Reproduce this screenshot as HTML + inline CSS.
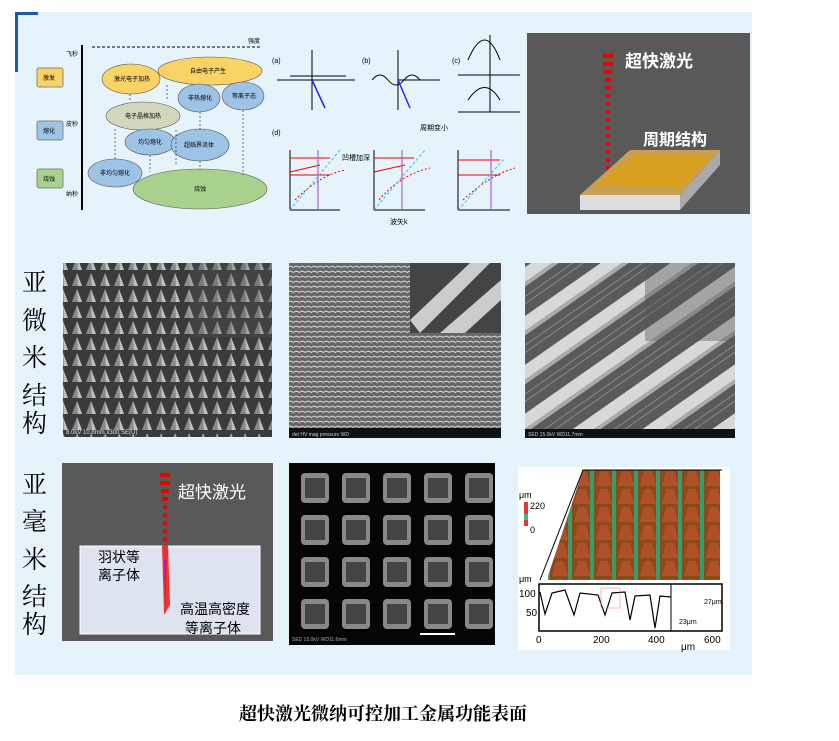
<!DOCTYPE html>
<html><head><meta charset="utf-8"><style>
body{margin:0;width:839px;height:741px;background:#fff;position:relative;overflow:hidden;font-family:"Liberation Serif","Noto Serif CJK SC",serif}
.a{position:absolute}
</style></head><body>
<div class="a" style="left:15px;top:12px;width:737px;height:663px;background:#e6f3fb"></div>
<div class="a" style="left:15px;top:12px;width:23px;height:3px;background:#1a5aa8"></div>
<div class="a" style="left:15px;top:12px;width:3px;height:60px;background:#1a5aa8"></div>
<svg class="a" style="left:0;top:0" width="839" height="741" font-family="Liberation Sans,Noto Sans CJK SC,sans-serif">
<defs>
<pattern id="p1" width="14" height="16" patternUnits="userSpaceOnUse"><rect width="14" height="16" fill="#3a3a3a"/><path d="M7 1 L12 14 L2 14Z" fill="#8a8a8a"/><path d="M7 1 L12 14 L8 14Z" fill="#c0c0c0"/></pattern>
<pattern id="p2" width="6" height="5" patternUnits="userSpaceOnUse"><rect width="6" height="5" fill="#666"/><path d="M0 2 Q3 0 6 3" stroke="#c8c8c8" stroke-width="1.2" fill="none"/></pattern>
<pattern id="p3" width="50" height="40" patternUnits="userSpaceOnUse" patternTransform="rotate(-35)"><rect width="50" height="40" fill="#5a5a5a"/><rect y="0" width="50" height="12" fill="#d8d8d8"/><rect y="12" width="50" height="4" fill="#aaa"/><path d="M0 24H50M0 30H50" stroke="#888" stroke-width="1"/></pattern>
<pattern id="p4" width="41" height="42" patternUnits="userSpaceOnUse" x="296" y="468"><rect width="41" height="42" fill="#050505"/><rect x="5" y="5" width="28" height="30" rx="4" fill="#888"/><rect x="9" y="10" width="20" height="20" fill="#444"/></pattern>
<pattern id="p5" width="22" height="18" patternUnits="userSpaceOnUse"><rect width="22" height="18" fill="#8a4a1a"/><path d="M2 18 L6 3 L14 3 L18 18Z" fill="#b0502a"/><rect x="18" y="0" width="4" height="18" fill="#3a9a6a"/></pattern>
</defs>
<line x1="82" y1="45" x2="82" y2="210" stroke="#000" stroke-width="2"/>
<line x1="92" y1="47" x2="260" y2="47" stroke="#000" stroke-dasharray="3,2"/>
<text x="248" y="43" font-size="6">强度</text>
<text x="66" y="56" font-size="6">飞秒</text><text x="66" y="126" font-size="6">皮秒</text><text x="66" y="196" font-size="6">纳秒</text>
<rect x="37" y="68" width="26" height="19" rx="2" fill="#f9d365" stroke="#888"/><text x="43" y="80" font-size="6">激发</text>
<rect x="37" y="121" width="26" height="19" rx="2" fill="#9dc3e6" stroke="#888"/><text x="43" y="133" font-size="6">熔化</text>
<rect x="37" y="169" width="26" height="19" rx="2" fill="#a9d18e" stroke="#888"/><text x="43" y="181" font-size="6">烧蚀</text>
<g stroke="#555" stroke-width=".6" font-size="6">
<ellipse cx="131" cy="79" rx="29" ry="15" fill="#f9d365"/><ellipse cx="210" cy="71" rx="52" ry="14" fill="#f9d365"/>
<ellipse cx="199" cy="98" rx="21" ry="14" fill="#9dc3e6"/><ellipse cx="243" cy="96" rx="21" ry="14" fill="#9dc3e6"/>
<ellipse cx="143" cy="116" rx="37" ry="14" fill="#d3d6bd"/><ellipse cx="150" cy="142" rx="25" ry="13" fill="#9dc3e6"/>
<ellipse cx="200" cy="145" rx="29" ry="16" fill="#9dc3e6"/><ellipse cx="115" cy="173" rx="27" ry="14" fill="#9dc3e6"/>
<ellipse cx="200" cy="189" rx="67" ry="20" fill="#a9d18e"/></g>
<g stroke="#333" stroke-width=".7" stroke-dasharray="2,2"><path d="M130 94V102M167 85V100M200 112V130M243 110V175M115 129V159M150 155V172M200 161V170M176 130V165"/></g>
<g font-size="6" fill="#000"><text x="114" y="81">激光电子加热</text><text x="190" y="73">自由电子产生</text><text x="188" y="100">非热熔化</text><text x="232" y="98">等离子态</text><text x="125" y="118">电子晶格加热</text><text x="138" y="144">均匀熔化</text><text x="184" y="147">超临界流体</text><text x="100" y="175">非均匀熔化</text><text x="194" y="191">烧蚀</text></g>
<g stroke="#000" stroke-width="1" fill="none">
<path d="M312 50V110M277 80H355M290 76H346"/><path d="M398 50V110M372 80Q380 70 388 80T404 80T420 80M398 80H440"/>
<path d="M468 60Q485 20 500 60M458 75H520M490 35V80M468 100Q485 75 500 100M458 112H520M490 80V112"/>
<path d="M290 150V210H340M374 150V210H425M458 150V210H510"/></g>
<path d="M312 80L325 108" stroke="#22f" stroke-width="1.5"/><path d="M398 80L410 108" stroke="#22f" stroke-width="1.5"/>
<g stroke="#e00" fill="none"><path d="M290 158H330M290 172L320 165M290 175H330M374 158H414M374 172L405 165M458 160H500M458 175H500"/>
<path d="M295 200Q320 175 345 170M379 200Q400 175 430 168M463 200Q490 175 515 168" stroke-dasharray="2,2"/></g>
<g stroke="#3bf" stroke-dasharray="3,2"><path d="M290 210L340 150M374 210L425 150M458 210L505 158"/></g>
<g stroke="#a6c" stroke-width="1.2"><path d="M318 150V210M402 150V210M491 150V210"/></g>
<g font-size="7"><text x="272" y="63">(a)</text><text x="362" y="63">(b)</text><text x="452" y="63">(c)</text><text x="272" y="135">(d)</text><text x="390" y="224">波矢k</text><text x="420" y="130">周期变小</text><text x="342" y="160">凹槽加深</text></g>
<rect x="527" y="33" width="223" height="181" fill="#595959"/>
<g fill="#e00"><rect x="603" y="54" width="10" height="4"/><rect x="603" y="62" width="10" height="4"/><rect x="604" y="70" width="8" height="4"/><rect x="605" y="78" width="6" height="4"/><rect x="605" y="86" width="6" height="4"/><rect x="606" y="94" width="4" height="4"/><rect x="606" y="102" width="4" height="4"/><rect x="606" y="110" width="4" height="4"/><rect x="606" y="118" width="4" height="4"/><rect x="606" y="126" width="4" height="4"/><rect x="606" y="134" width="4" height="4"/><rect x="606" y="142" width="4" height="4"/><rect x="606" y="150" width="4" height="4"/><rect x="606" y="158" width="4" height="4"/><rect x="606" y="166" width="4" height="4"/><rect x="606" y="174" width="4" height="4"/></g>
<text x="625" y="67" font-size="17" fill="#fff" font-weight="bold">超快激光</text>
<text x="643" y="145" font-size="16" fill="#fff" font-weight="bold">周期结构</text>
<path d="M580 195L630 150H720L680 195Z" fill="#c8a050"/><path d="M580 195H680V210H580Z" fill="#ddd"/><path d="M680 195L720 150V165L680 210Z" fill="#aaa"/>
<path d="M595 185L635 155H712L680 188Z" fill="#d9a020"/>
<g font-size="25" font-family="Liberation Serif,Noto Serif CJK SC,serif"><text x="22" y="291">亚</text><text x="22" y="329">微</text><text x="22" y="366">米</text><text x="22" y="404">结</text><text x="22" y="432">构</text>
<text x="22" y="493">亚</text><text x="22" y="530">毫</text><text x="22" y="568">米</text><text x="22" y="605">结</text><text x="22" y="633">构</text></g>
<rect x="63" y="263" width="209" height="174" fill="url(#p1)"/>
<rect x="190" y="263" width="82" height="74" fill="#555"/><rect x="190" y="263" width="82" height="74" fill="url(#p1)" opacity=".7"/>
<text x="66" y="434" font-size="6" fill="#ddd">8.0kV 10.8mm x300 SE(U)</text>
<rect x="289" y="263" width="212" height="165" fill="url(#p2)"/>
<rect x="410" y="263" width="91" height="70" fill="#444"/><path d="M410 320L470 263H490L420 333Z M440 333L501 280V300L465 333Z" fill="#ccc"/>
<rect x="289" y="428" width="212" height="10" fill="#111"/><text x="292" y="436" font-size="5" fill="#ccc">det HV mag pressure WD</text>
<rect x="525" y="263" width="210" height="166" fill="url(#p3)"/>
<rect x="645" y="263" width="90" height="78" fill="#555"/><rect x="645" y="263" width="90" height="78" fill="url(#p3)" opacity=".6"/>
<rect x="525" y="429" width="210" height="9" fill="#111"/><text x="528" y="436" font-size="5" fill="#ccc">SED 15.0kV WD11.7mm</text>
<rect x="62" y="463" width="211" height="178" fill="#595959"/>
<rect x="80" y="546" width="180" height="88" fill="#dde4ef" stroke="#fff"/>
<g fill="#e00"><rect x="160" y="473" width="10" height="4"/><rect x="160" y="481" width="10" height="4"/><rect x="161" y="489" width="8" height="4"/><rect x="162" y="497" width="6" height="4"/><rect x="163" y="505" width="4" height="4"/><rect x="163" y="513" width="4" height="4"/><rect x="163" y="521" width="4" height="4"/><rect x="163" y="529" width="4" height="4"/><rect x="163" y="537" width="4" height="4"/></g>
<path d="M162 545L168 545L170 605L164 615Z" fill="#e33"/><path d="M164 560L166 560L166 615Z" fill="#c0c"/>
<text x="178" y="498" font-size="17" fill="#fff">超快激光</text>
<text x="98" y="562" font-size="14">羽状等</text><text x="98" y="580" font-size="14">离子体</text>
<text x="180" y="614" font-size="14">高温高密度</text><text x="185" y="633" font-size="14">等离子体</text>
<rect x="289" y="463" width="206" height="182" fill="#050505"/>
<rect x="296" y="468" width="205" height="168" fill="url(#p4)"/><rect x="495" y="463" width="10" height="182" fill="#e6f3fb"/>
<rect x="289" y="633" width="206" height="12" fill="#050505"/><rect x="420" y="633" width="35" height="2" fill="#fff"/>
<text x="292" y="641" font-size="5" fill="#aaa">SED 15.0kV WD11.6mm</text>
<rect x="518" y="467" width="212" height="183" fill="#fff"/>
<path d="M548 576L583 470H720V580H548Z" fill="url(#p5)"/>
<path d="M540 580L583 470H722" stroke="#000" fill="none"/>
<rect x="524" y="502" width="4" height="24" fill="#e33"/><rect x="524" y="514" width="4" height="6" fill="#3b8"/>
<text x="519" y="498" font-size="9">μm</text><text x="530" y="509" font-size="9">220</text><text x="530" y="533" font-size="9">0</text>
<text x="519" y="582" font-size="9">μm</text>
<rect x="539" y="584" width="183" height="47" fill="#fff" stroke="#000" stroke-width="1.5"/>
<line x1="671" y1="584" x2="671" y2="631" stroke="#000"/>
<path d="M540 592L545 614L552 593L565 590L574 615L580 593L598 595L605 615L612 593L625 592L630 620L635 596L650 595L655 628L660 596L671 597" stroke="#000" fill="none" stroke-width="1.2"/>
<rect x="601" y="588" width="19" height="20" fill="none" stroke="#e88" stroke-width=".6"/>
<g font-size="10"><text x="519" y="597">100</text><text x="526" y="616">50</text><text x="536" y="643">0</text><text x="593" y="643">200</text><text x="648" y="643">400</text><text x="704" y="643">600</text><text x="681" y="650">μm</text></g>
<g font-size="7"><text x="704" y="604">27μm</text><text x="679" y="624">23μm</text></g>
</svg>
<div class="a" style="left:0;top:700px;width:766px;text-align:center;font-size:18px;font-weight:bold;font-family:'Liberation Serif','Noto Serif CJK SC',serif">超快激光微纳可控加工金属功能表面</div>
</body></html>
